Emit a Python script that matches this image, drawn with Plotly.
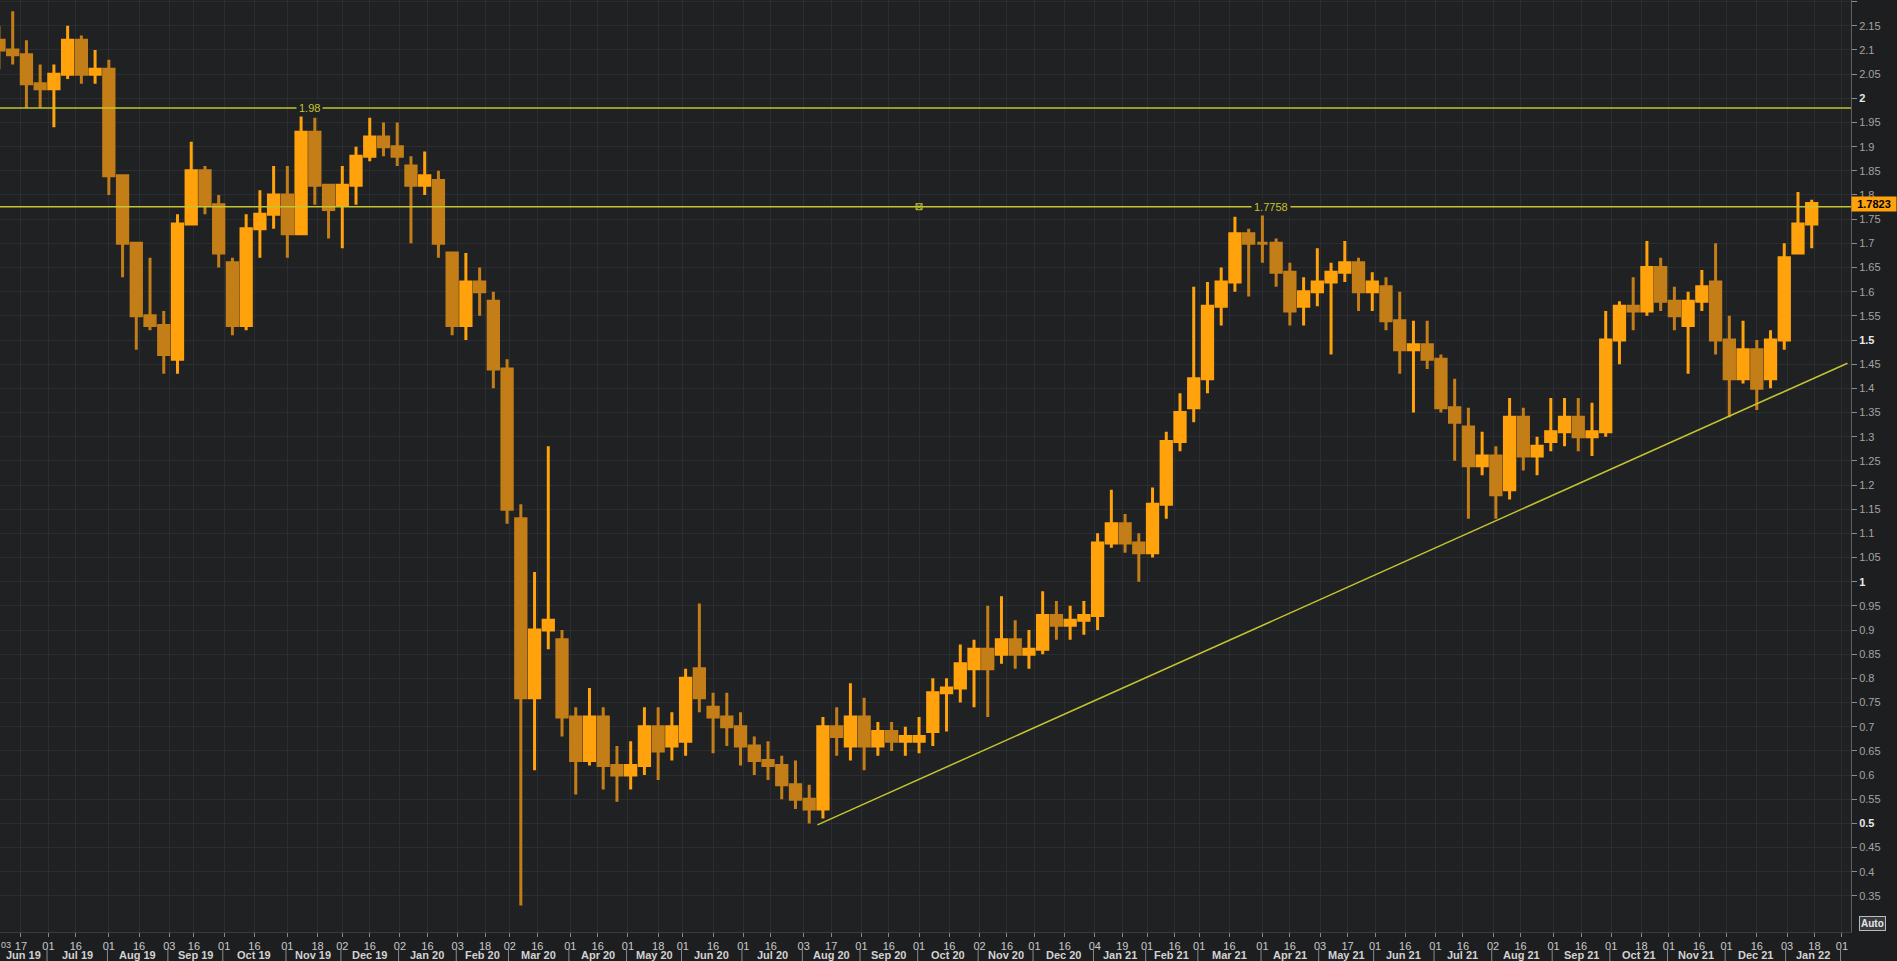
import pandas as pd
import plotly.graph_objects as go

# ---------------- data (5-trading-day candles) ----------------
FIRST_DAY = "2019-06-03"
LAST_CAL_DAY = "2022-03-31"
HOLIDAYS = ["2019-07-04", "2019-09-02", "2019-11-28", "2019-12-25", "2020-01-01",
            "2020-01-20", "2020-02-17", "2020-04-10", "2020-05-25", "2020-07-03",
            "2020-09-07", "2020-11-26", "2020-12-25", "2021-01-01", "2021-01-18",
            "2021-02-15", "2021-04-02", "2021-05-31", "2021-07-05", "2021-09-06",
            "2021-11-25", "2021-12-24", "2022-01-17"]
BLOCK_DAYS = 5

OPEN = [2.12, 2.10, 2.09, 2.03, 2.02, 2.05, 2.12, 2.05, 2.06, 1.84,
        1.70, 1.55, 1.53, 1.46, 1.74, 1.85, 1.78, 1.66, 1.53, 1.73,
        1.76, 1.80, 1.72, 1.93, 1.82, 1.78, 1.82, 1.88, 1.92, 1.90,
        1.86, 1.82, 1.83, 1.68, 1.53, 1.62, 1.58, 1.44, 1.13, 0.76,
        0.90, 0.88, 0.72, 0.63, 0.72, 0.62, 0.60, 0.62, 0.70, 0.66,
        0.67, 0.82, 0.74, 0.72, 0.70, 0.66, 0.63, 0.62, 0.58, 0.55,
        0.53, 0.70, 0.66, 0.72, 0.66, 0.69, 0.67, 0.67, 0.69, 0.77,
        0.78, 0.82, 0.86, 0.85, 0.88, 0.85, 0.86, 0.93, 0.91, 0.92,
        0.93, 1.08, 1.12, 1.08, 1.06, 1.16, 1.29, 1.36, 1.42, 1.57,
        1.62, 1.72, 1.70, 1.70, 1.64, 1.57, 1.60, 1.62, 1.64, 1.66,
        1.60, 1.61, 1.54, 1.48, 1.49, 1.46, 1.36, 1.32, 1.24, 1.26,
        1.19, 1.34, 1.26, 1.29, 1.31, 1.34, 1.30, 1.31, 1.50, 1.57,
        1.56, 1.65, 1.58, 1.53, 1.58, 1.62, 1.50, 1.42, 1.48, 1.42,
        1.50, 1.68, 1.74]
HIGH = [2.15, 2.18, 2.12, 2.07, 2.07, 2.15, 2.13, 2.10, 2.08, 1.84,
        1.70, 1.67, 1.56, 1.76, 1.91, 1.86, 1.80, 1.67, 1.76, 1.81,
        1.86, 1.86, 1.97, 1.96, 1.82, 1.86, 1.90, 1.96, 1.95, 1.95,
        1.88, 1.89, 1.85, 1.68, 1.68, 1.65, 1.60, 1.46, 1.16, 1.02,
        1.28, 0.90, 0.74, 0.78, 0.74, 0.66, 0.67, 0.74, 0.74, 0.73,
        0.82, 0.955, 0.77, 0.77, 0.73, 0.68, 0.67, 0.64, 0.63, 0.58,
        0.72, 0.74, 0.79, 0.76, 0.71, 0.71, 0.70, 0.72, 0.80, 0.80,
        0.87, 0.88, 0.95, 0.97, 0.92, 0.90, 0.98, 0.96, 0.95, 0.96,
        1.10, 1.19, 1.14, 1.10, 1.195, 1.31, 1.39, 1.61, 1.62, 1.65,
        1.755, 1.73, 1.776, 1.71, 1.66, 1.63, 1.69, 1.66, 1.705, 1.67,
        1.64, 1.63, 1.60, 1.54, 1.54, 1.47, 1.42, 1.36, 1.31, 1.28,
        1.38, 1.36, 1.30, 1.38, 1.38, 1.38, 1.37, 1.56, 1.58, 1.63,
        1.705, 1.67, 1.61, 1.60, 1.645, 1.70, 1.55, 1.54, 1.50, 1.52,
        1.70, 1.806, 1.79]
LOW = [2.06, 2.07, 1.98, 1.98, 1.94, 2.04, 2.03, 2.03, 1.80, 1.63,
       1.48, 1.52, 1.43, 1.43, 1.74, 1.76, 1.65, 1.51, 1.52, 1.67,
       1.73, 1.67, 1.72, 1.78, 1.71, 1.69, 1.78, 1.87, 1.88, 1.86,
       1.70, 1.80, 1.67, 1.51, 1.50, 1.55, 1.40, 1.12, 0.33, 0.61,
       0.86, 0.68, 0.56, 0.62, 0.57, 0.545, 0.57, 0.60, 0.59, 0.63,
       0.64, 0.73, 0.645, 0.66, 0.62, 0.60, 0.59, 0.55, 0.53, 0.50,
       0.51, 0.64, 0.63, 0.61, 0.64, 0.65, 0.64, 0.645, 0.66, 0.69,
       0.75, 0.74, 0.72, 0.83, 0.82, 0.82, 0.85, 0.88, 0.88, 0.89,
       0.90, 1.07, 1.06, 1.00, 1.05, 1.13, 1.27, 1.33, 1.39, 1.53,
       1.60, 1.59, 1.66, 1.61, 1.53, 1.53, 1.57, 1.47, 1.62, 1.56,
       1.56, 1.52, 1.43, 1.35, 1.44, 1.35, 1.25, 1.13, 1.22, 1.13,
       1.17, 1.23, 1.22, 1.27, 1.28, 1.27, 1.26, 1.30, 1.45, 1.52,
       1.55, 1.56, 1.52, 1.43, 1.56, 1.47, 1.34, 1.41, 1.355, 1.40,
       1.48, 1.68, 1.69]
CLOSE = [2.10, 2.09, 2.03, 2.02, 2.05, 2.12, 2.05, 2.06, 1.84, 1.70,
         1.55, 1.53, 1.47, 1.74, 1.85, 1.78, 1.68, 1.53, 1.73, 1.76,
         1.80, 1.72, 1.93, 1.82, 1.77, 1.82, 1.88, 1.92, 1.90, 1.88,
         1.82, 1.84, 1.70, 1.53, 1.62, 1.60, 1.44, 1.15, 0.76, 0.90,
         0.92, 0.72, 0.63, 0.72, 0.62, 0.60, 0.62, 0.70, 0.65, 0.70,
         0.80, 0.76, 0.72, 0.70, 0.66, 0.63, 0.62, 0.58, 0.55, 0.53,
         0.70, 0.68, 0.72, 0.66, 0.69, 0.67, 0.68, 0.68, 0.77, 0.78,
         0.83, 0.86, 0.82, 0.88, 0.85, 0.86, 0.93, 0.91, 0.92, 0.93,
         1.08, 1.12, 1.08, 1.06, 1.16, 1.29, 1.35, 1.42, 1.57, 1.62,
         1.72, 1.70, 1.70, 1.64, 1.56, 1.60, 1.62, 1.64, 1.66, 1.60,
         1.62, 1.54, 1.48, 1.49, 1.46, 1.36, 1.33, 1.24, 1.26, 1.18,
         1.34, 1.26, 1.28, 1.31, 1.34, 1.30, 1.31, 1.50, 1.57, 1.56,
         1.65, 1.58, 1.55, 1.58, 1.61, 1.50, 1.42, 1.48, 1.40, 1.50,
         1.67, 1.74, 1.7823]

TICK_DATES = ["2019-06-03", "2019-06-17", "2019-07-01", "2019-07-16", "2019-08-01", "2019-08-16",
              "2019-09-03", "2019-09-16", "2019-10-01", "2019-10-16", "2019-11-01", "2019-11-18",
              "2019-12-02", "2019-12-16", "2020-01-02", "2020-01-16", "2020-02-03", "2020-02-18",
              "2020-03-02", "2020-03-16", "2020-04-01", "2020-04-16", "2020-05-01", "2020-05-18",
              "2020-06-01", "2020-06-16", "2020-07-01", "2020-07-16", "2020-08-03", "2020-08-17",
              "2020-09-01", "2020-09-16", "2020-10-01", "2020-10-16", "2020-11-02", "2020-11-16",
              "2020-12-01", "2020-12-16", "2021-01-04", "2021-01-19", "2021-02-01", "2021-02-16",
              "2021-03-01", "2021-03-16", "2021-04-01", "2021-04-16", "2021-05-03", "2021-05-17",
              "2021-06-01", "2021-06-16", "2021-07-01", "2021-07-16", "2021-08-02", "2021-08-16",
              "2021-09-01", "2021-09-16", "2021-10-01", "2021-10-18", "2021-11-01", "2021-11-16",
              "2021-12-01", "2021-12-16", "2022-01-03", "2022-01-18", "2022-02-01"]
MONTH_STARTS = ["2019-06-01", "2019-07-01", "2019-08-01", "2019-09-01", "2019-10-01", "2019-11-01",
                "2019-12-01", "2020-01-01", "2020-02-01", "2020-03-01", "2020-04-01", "2020-05-01",
                "2020-06-01", "2020-07-01", "2020-08-01", "2020-09-01", "2020-10-01", "2020-11-01",
                "2020-12-01", "2021-01-01", "2021-02-01", "2021-03-01", "2021-04-01", "2021-05-01",
                "2021-06-01", "2021-07-01", "2021-08-01", "2021-09-01", "2021-10-01", "2021-11-01",
                "2021-12-01", "2022-01-01", "2022-02-01"]
MONTH_LABELS = ["Jun 19", "Jul 19", "Aug 19", "Sep 19", "Oct 19", "Nov 19", "Dec 19",
                "Jan 20", "Feb 20", "Mar 20", "Apr 20", "May 20", "Jun 20", "Jul 20", "Aug 20",
                "Sep 20", "Oct 20", "Nov 20", "Dec 20", "Jan 21", "Feb 21", "Mar 21", "Apr 21",
                "May 21", "Jun 21", "Jul 21", "Aug 21", "Sep 21", "Oct 21", "Nov 21", "Dec 21",
                "Jan 22"]

Y_TICKS = [0.35, 0.4, 0.45, 0.5, 0.55, 0.6, 0.65, 0.7, 0.75, 0.8, 0.85, 0.9, 0.95, 1.0,
           1.05, 1.1, 1.15, 1.2, 1.25, 1.3, 1.35, 1.4, 1.45, 1.5, 1.55, 1.6, 1.65, 1.7,
           1.75, 1.8, 1.85, 1.9, 1.95, 2.0, 2.05, 2.1, 2.15, 2.2]
Y_BOLD = [0.5, 1.0, 1.5, 2.0]

H_LINES = [1.98, 1.7758]
H_LABELS = ["1.98", "1.7758"]
H_LABEL_DATES = ["2019-11-13", "2021-04-07"]
HANDLE_DATE = "2020-10-01"
TREND_DATES = ["2020-08-10", "2022-02-03"]
TREND_VALUES = [0.497, 1.452]
LAST_PRICE = 1.7823

# ---------------- styling ----------------
BG = "#202123"
GRID = "#2C2D30"
ORANGE = "#FFA20C"
ORANGE_DIM = "#C47E18"
YELLOW = "#C4C431"
FONT = "Liberation Sans, Arial, sans-serif"

days = pd.bdate_range(FIRST_DAY, LAST_CAL_DAY)
days = days[~days.isin(pd.to_datetime(HOLIDAYS))]


def tidx(d):
    return int(days.searchsorted(pd.Timestamp(d)))


x_pos = [BLOCK_DAYS * j + 2 for j in range(len(OPEN))]

# axis scale anchored on two reference tick positions (pixels in a 1851px wide plot)
PLOT_W, PLOT_H = 1851, 932
PX_A, PX_B = 48.4, 1787.0
i_a, i_b = tidx("2019-07-01"), tidx("2022-01-03")
ppd = (PX_B - PX_A) / (i_b - i_a)
x0 = i_a - PX_A / ppd
x1 = x0 + PLOT_W / ppd

fig = go.Figure()
fig.add_trace(go.Candlestick(
    x=x_pos, open=OPEN, high=HIGH, low=LOW, close=CLOSE,
    increasing=dict(line=dict(color=ORANGE, width=3), fillcolor=ORANGE),
    decreasing=dict(line=dict(color=ORANGE_DIM, width=3), fillcolor=ORANGE_DIM),
    whiskerwidth=0, hoverinfo="skip", showlegend=False,
))

# line handle marker
fig.add_trace(go.Scatter(
    x=[tidx(HANDLE_DATE)], y=[H_LINES[1]], mode="markers",
    marker=dict(symbol="square-x-open", size=6, color=YELLOW, line=dict(width=1, color=YELLOW)),
    hoverinfo="skip", showlegend=False))

shapes = []
for v in H_LINES:
    shapes.append(dict(type="line", xref="paper", x0=0, x1=1, yref="y", y0=v, y1=v,
                       line=dict(color=YELLOW, width=1.5), layer="above"))
shapes.append(dict(type="line", xref="x", yref="y",
                   x0=tidx(TREND_DATES[0]), y0=TREND_VALUES[0],
                   x1=tidx(TREND_DATES[1]), y1=TREND_VALUES[1],
                   line=dict(color=YELLOW, width=1.5), layer="above"))

annotations = []
for v, t, d in zip(H_LINES, H_LABELS, H_LABEL_DATES):
    annotations.append(dict(x=tidx(d), y=v, xref="x", yref="y", text=t, showarrow=False,
                            font=dict(family=FONT, size=11, color=YELLOW),
                            bgcolor=BG, borderpad=2))

# first day label at the left edge (kept fully inside the page)
annotations.append(dict(x=0, xref="paper", xanchor="left", xshift=-1,
                        y=0, yref="paper", yanchor="top", yshift=-6,
                        text=TICK_DATES[0][-2:], showarrow=False,
                        font=dict(family=FONT, size=9, color="#CACACA")))

# month labels and separators in the lower axis row
for k, lab in enumerate(MONTH_LABELS):
    s = max(tidx(MONTH_STARTS[k]) - 0.5, x0)
    e = min(tidx(MONTH_STARTS[k + 1]) - 0.5, x1)
    annotations.append(dict(x=(s + e) / 2, y=0, xref="x", yref="paper", yshift=-23,
                            yanchor="middle", text="<b>" + lab + "</b>", showarrow=False,
                            font=dict(family=FONT, size=11, color="#D2D2D2")))
for m in MONTH_STARTS[1:]:
    px = (tidx(m) - 0.5 - x0) / (x1 - x0)
    shapes.append(dict(type="line", xref="paper", yref="paper", x0=px, x1=px,
                       y0=-16 / PLOT_H, y1=-29 / PLOT_H,
                       line=dict(color="#8A8A8A", width=1)))

# last price tag and Auto button
annotations.append(dict(x=1, xref="paper", xanchor="left", y=LAST_PRICE, yref="y",
                        text="<b>1.7823</b>", showarrow=False, bgcolor=ORANGE,
                        font=dict(family=FONT, size=11, color="#000000"),
                        borderpad=1, width=42))
annotations.append(dict(x=1, xref="paper", xanchor="left", xshift=8, y=0, yref="paper",
                        yanchor="middle", yshift=9, text="<b>Auto</b>", showarrow=False,
                        bgcolor="#3A3B3E", bordercolor="#BBBBBB", borderwidth=1, borderpad=1,
                        font=dict(family=FONT, size=10, color="#E6E6E6")))

y_text = []
for v in Y_TICKS:
    s = "%g" % v
    if v in Y_BOLD:
        s = "<b><span style='color:#E8E8E8'>" + s + "</span></b>"
    y_text.append(s)

fig.update_layout(
    width=1897, height=961,
    margin=dict(l=0, r=1897 - PLOT_W, t=0, b=961 - PLOT_H),
    paper_bgcolor="#1D1E20", plot_bgcolor=BG,
    boxgap=0.25, boxgroupgap=0,
    shapes=shapes, annotations=annotations, showlegend=False,
    xaxis=dict(range=[x0, x1], rangeslider=dict(visible=False),
               tickmode="array", tickvals=[tidx(d) for d in TICK_DATES],
               ticktext=[d[-2:] for d in TICK_DATES],
               ticks="outside", ticklen=4, tickcolor="#8A8A8A",
               tickfont=dict(family=FONT, size=11, color="#CACACA"),
               showgrid=True, gridcolor=GRID, gridwidth=1, zeroline=False,
               showline=True, linecolor="#3A3B3E", fixedrange=True),
    yaxis=dict(side="right", range=[0.2753, 2.2034], tickmode="array",
               tickvals=Y_TICKS, ticktext=y_text, ticks="outside", ticklen=5,
               tickcolor="#8A8A8A", tickfont=dict(family=FONT, size=11, color="#A4A4A4"),
               showgrid=True, gridcolor=GRID, gridwidth=1, zeroline=False,
               showline=True, linecolor="#5E5F62", fixedrange=True),
)

fig.write_html("out.html", config={"displayModeBar": False},
               post_script="document.body.style.margin='0';document.body.style.overflow='hidden';")
